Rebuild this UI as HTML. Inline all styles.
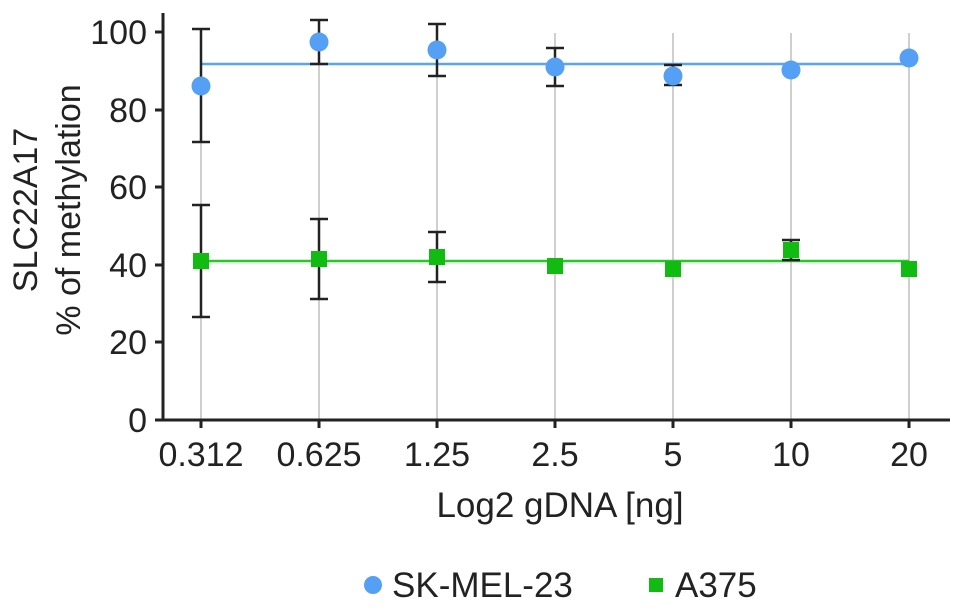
<!DOCTYPE html>
<html><head><meta charset="utf-8"><style>body{margin:0;background:#fff}svg{display:block}text{font-family:"Liberation Sans",Arial,sans-serif;fill:#222}</style></head>
<body>
<svg width="969" height="613" viewBox="0 0 969 613">
<g stroke="#cfcfcf" stroke-width="2">
<line x1="201" y1="33" x2="201" y2="420"/><line x1="319" y1="33" x2="319" y2="420"/><line x1="437" y1="33" x2="437" y2="420"/><line x1="555" y1="33" x2="555" y2="420"/><line x1="673" y1="33" x2="673" y2="420"/><line x1="791" y1="33" x2="791" y2="420"/><line x1="909" y1="33" x2="909" y2="420"/>
</g>
<line x1="201" y1="64" x2="909" y2="64" stroke="#5aa5f0" stroke-width="2.5"/>
<line x1="201" y1="261" x2="909" y2="261" stroke="#22cc22" stroke-width="2.5"/>
<g stroke="#222" stroke-width="2.5" fill="none">
<path d="M201 29V142M192 29H210M192 142H210"/>
<path d="M319 20V64M310 20H328M310 64H328"/>
<path d="M437 24V76M428 24H446M428 76H446"/>
<path d="M555 48V86M546 48H564M546 86H564"/>
<path d="M673 65V85M664 65H682M664 85H682"/>
<path d="M201 205V317M192 205H210M192 317H210"/>
<path d="M319 219V299M310 219H328M310 299H328"/>
<path d="M437 232V282M428 232H446M428 282H446"/>
<path d="M791 240V260M782 240H800M782 260H800"/>
</g>
<g fill="#55a0f5">
<circle cx="201" cy="86" r="9.5"/><circle cx="319" cy="42" r="9.5"/><circle cx="437" cy="50" r="9.5"/><circle cx="555" cy="67" r="9.5"/><circle cx="673" cy="76" r="9.5"/><circle cx="791" cy="70" r="9.5"/><circle cx="909" cy="58" r="9.5"/>
</g>
<g fill="#11bb11">
<rect x="193" y="253" width="16" height="16"/><rect x="311" y="251" width="16" height="16"/><rect x="429" y="249" width="16" height="16"/><rect x="547" y="258" width="16" height="16"/><rect x="665" y="261" width="16" height="16"/><rect x="783" y="242" width="16" height="16"/><rect x="901" y="261" width="16" height="16"/>
</g>
<g stroke="#222" stroke-width="3" fill="none">
<path d="M163 13V420H950"/>
<path d="M155 32H163M155 110H163M155 187H163M155 265H163M155 342H163M155 420H163"/>
<path d="M201 420V428M319 420V428M437 420V428M555 420V428M673 420V428M791 420V428M909 420V428"/>
</g>
<g font-size="34" text-anchor="end">
<text x="147" y="44">100</text><text x="147" y="122">80</text><text x="147" y="199">60</text><text x="147" y="277">40</text><text x="147" y="354">20</text><text x="147" y="432">0</text>
</g>
<g font-size="34" text-anchor="middle">
<text x="201" y="466">0.312</text><text x="319" y="466">0.625</text><text x="437" y="466">1.25</text><text x="555" y="466">2.5</text><text x="673" y="466">5</text><text x="791" y="466">10</text><text x="909" y="466">20</text>
<text x="560" y="517" font-size="35">Log2 gDNA [ng]</text>
<text transform="translate(37,210) rotate(-90)">SLC22A17</text>
<text transform="translate(80,210) rotate(-90)">% of methylation</text>
</g>
<circle cx="373" cy="585" r="9" fill="#55a0f5"/>
<text x="392" y="597" font-size="35">SK-MEL-23</text>
<rect x="649" y="578" width="14" height="14" fill="#11bb11"/>
<text x="675" y="597" font-size="35">A375</text>
</svg>
</body></html>
